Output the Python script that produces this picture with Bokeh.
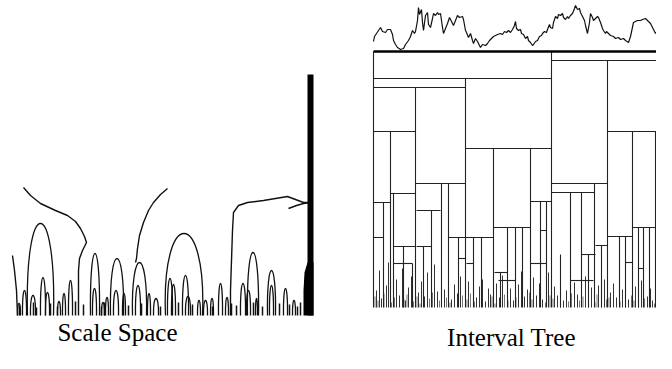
from bokeh.plotting import figure
from bokeh.models import Range1d
from bokeh.core.properties import value
from bokeh.embed import file_html
from bokeh.resources import INLINE

# ---------------- data (image-pixel coordinates) ----------------
captions = ["Scale Space", "Interval Tree"]
caption_x = [117, 511]
caption_y = [332, 337]

# signal on top of the interval tree
signal_x = [373, 374, 376, 378, 380, 382, 385, 387, 390, 392, 393, 395, 397, 400, 403, 405, 408, 410,
            412, 414, 415, 417, 418, 419, 421, 422, 423, 425, 427, 428, 430, 432, 433, 435, 437, 438,
            440, 442, 443, 445, 447, 449, 451, 453, 455, 457, 459, 462, 463, 465, 466, 468, 470, 472,
            473, 475, 477, 480, 482, 485, 487, 489, 491, 493, 495, 497, 500, 502, 504, 506, 508, 510,
            512, 514, 515, 516, 518, 520, 521, 523, 525, 527, 528, 530, 532, 533, 535, 537, 539, 541,
            542, 544, 546, 547, 549, 550, 552, 553, 555, 557, 558, 560, 562, 563, 565, 567, 568, 570,
            572, 574, 575, 577, 579, 580, 582, 584, 585, 587, 589, 590, 592, 593, 595, 597, 598, 600,
            602, 603, 605, 606, 608, 610, 613, 615, 618, 620, 623, 625, 628, 630, 633, 635, 637, 640,
            642, 645, 647, 650, 652, 655, 657, 660, 662, 663, 665, 667, 668, 670, 672]
signal_y = [41, 36, 33, 30, 27, 31, 32, 29, 29, 34, 40, 44, 47, 49, 48, 44, 40, 36,
            30, 33, 31, 20, 7, 14, 9, 22, 30, 15, 12, 24, 27, 18, 13, 15, 12, 14,
            13, 27, 33, 28, 23, 17, 21, 25, 20, 15, 17, 16, 19, 30, 32, 37, 33, 40,
            43, 38, 41, 47, 44, 45, 43, 40, 38, 36, 35, 34, 33, 34, 31, 32, 30, 32,
            29, 25, 21, 28, 30, 29, 33, 34, 38, 36, 40, 42, 45, 44, 41, 40, 36, 35,
            33, 31, 32, 29, 24, 27, 28, 22, 16, 18, 14, 15, 13, 17, 19, 16, 18, 15,
            13, 8, 5, 9, 8, 12, 16, 20, 25, 33, 22, 13, 17, 20, 18, 16, 17, 22,
            28, 30, 33, 31, 33, 35, 36, 38, 37, 39, 38, 40, 42, 36, 22, 21, 20, 20,
            19, 18, 20, 23, 27, 33, 30, 32, 36, 38, 33, 30, 27, 24, 22]

tree_top_y = 51
tree_left = 373
tree_right = 672
tree_bottom = 307

# vertical boundaries of the tree nodes: x and the level where each starts
node_vx = [373, 672, 551, 465, 607, 415, 390, 441, 448, 493, 530, 632, 655, 383, 393, 594, 431,
           473, 507, 515, 546, 581, 570, 619, 643, 665, 403, 423, 412, 458, 481, 500, 522, 540,
           560, 588, 601, 625, 638, 649, 660]
node_vtop = [51, 51, 51, 78, 60, 87, 131, 183, 183, 148, 148, 131, 131, 202, 193, 183, 210,
             237, 227, 227, 201, 192, 192, 236, 227, 192, 246, 246, 263, 237, 237, 272, 227, 201,
             254, 254, 245, 236, 227, 227, 253]

# horizontal tops of the tree nodes
node_hx0 = [373, 551, 373, 373, 607, 465, 415, 551, 551, 390, 655, 373, 530, 416, 493, 632, 373, 448,
            465, 607, 393, 416, 595, 655, 581, 393, 466, 530, 494, 498, 570, 665, 458, 540, 625, 638]
node_hx1 = [551, 672, 465, 415, 672, 551, 465, 607, 594, 415, 672, 390, 551, 440, 530, 655, 383, 465,
            493, 632, 415, 431, 607, 665, 595, 412, 473, 546, 507, 515, 593, 672, 465, 546, 632, 643]
node_hy = [78, 60, 87, 131, 131, 148, 183, 183, 192, 193, 192, 202, 201, 210, 227, 227, 237, 237,
           237, 236, 246, 246, 245, 253, 254, 263, 263, 263, 272, 280, 280, 280, 258, 230, 262, 268]

# leaf intervals at the bottom of the tree
leaf_x = [376, 379, 381, 386, 388, 396, 399, 402, 405, 408, 411, 418, 421, 424, 427, 434, 437, 444,
          451, 454, 457, 460, 468, 476, 479, 482, 485, 488, 490, 496, 499, 502, 510, 513, 518, 521,
          524, 527, 533, 536, 539, 542, 548, 554, 557, 560, 563, 566, 574, 577, 585, 588, 591, 598,
          601, 604, 610, 613, 616, 622, 625, 628, 635, 638, 641, 647, 650, 652, 658, 661, 668]
leaf_top = [290, 270, 298, 285, 262, 279, 295, 268, 300, 287, 276, 292, 281, 296, 272, 264, 291, 289,
            299, 284, 293, 276, 281, 297, 286, 279, 301, 288, 294, 283, 297, 275, 288, 300, 284, 271,
            296, 289, 277, 295, 283, 299, 272, 286, 295, 278, 300, 290, 282, 294, 276, 298, 287, 285,
            300, 279, 292, 283, 297, 289, 275, 299, 286, 293, 280, 296, 288, 300, 281, 294, 287]
fine_x = [374.5, 377.5, 383.5, 391, 394, 403.5, 406.5, 413, 416.5, 419.5, 429, 432, 439, 446,
          449.5, 462, 466.5, 470, 474, 491.5, 494.5, 504, 507.5, 515.5, 529, 531.5, 545, 549.5,
          552.5, 568, 571, 579, 582.5, 594.5, 596.5, 606, 608.5, 619.5, 631, 633.5, 644, 654,
          656.5, 663]
fine_top = [296, 300, 293, 302, 297, 299, 294, 301, 296, 303, 298, 292, 300, 297, 302, 295, 299,
            293, 301, 296, 303, 294, 300, 297, 292, 299, 302, 295, 298, 301, 293, 300, 296, 302,
            294, 299, 297, 301, 295, 300, 298, 303, 293, 299]

# scale space fingerprints: closed arches (left foot, right foot, apex)
arch_left = [27, 90, 110, 132, 165, 247, 267, 22, 40, 62, 68, 92, 122, 147, 153, 167, 171, 182,
             197, 203, 218, 225, 240, 246, 269, 283, 30, 45, 105, 113, 135, 185, 210, 255, 292, 17, 57, 101]
arch_right = [53, 99, 123, 146, 202, 258, 275, 26, 45, 65, 72, 96, 125, 150, 158, 172, 175, 188,
              200, 207, 222, 228, 245, 250, 273, 287, 35, 49, 108, 118, 140, 190, 213, 257, 295, 20, 60, 104]
arch_top = [223, 253, 258, 262, 233, 252, 270, 290, 277, 293, 280, 288, 293, 293, 298, 278, 284, 275,
            300, 300, 283, 297, 283, 290, 285, 288, 295, 292, 297, 290, 285, 296, 298, 298, 300, 303, 301, 302]
scale_bottom = 315

# open fingerprint lines
branch_a_x = [23, 30, 40, 55, 67, 75, 80, 84, 86, 82, 79, 78, 78, 78]
branch_a_y = [187, 195, 203, 210, 215, 221, 228, 236, 242, 250, 258, 270, 290, 315]
branch_b_x = [167, 160, 153, 148, 143, 139, 137, 136, 135]
branch_b_y = [188, 194, 202, 210, 222, 235, 248, 258, 262]
branch_c_x = [230, 230, 231, 232, 233, 238, 247, 263, 275, 287, 295, 303, 310]
branch_c_y = [315, 290, 260, 230, 212, 205, 202, 200, 198, 196, 199, 202, 202]
branch_d_x = [288, 296, 303, 310]
branch_d_y = [208, 205, 203, 202]
branch_e_x = [12, 14, 16, 17]
branch_e_y = [255, 270, 290, 315]

# thick coarse-scale extremum at the right of the scale space
bar_left, bar_right, bar_top = 307, 313, 74
blob_x = [307, 304, 303, 303, 313, 313]
blob_y = [262, 272, 290, 315, 315, 262]

# small fine-scale marks along the bottom
tick_x = [19, 33, 36, 50, 57, 75, 83, 101, 104, 128, 141, 160, 178, 192, 212, 231, 236, 253,
          262, 279, 289, 297, 300]
tick_top = [305, 302, 307, 303, 306, 301, 304, 306, 302, 305, 303, 306, 302, 304, 306, 303, 305,
            302, 306, 303, 304, 306, 302]

# ---------------- figure ----------------
p = figure(width=656, height=353, x_range=Range1d(0, 656), y_range=Range1d(353, 0),
           output_backend="svg", toolbar_location=None, min_border=0,
           x_axis_location=None, y_axis_location=None)
p.grid.visible = False
p.outline_line_color = None
p.background_fill_color = "white"
p.border_fill_color = "white"

ink = "#111111"

# --- scale space ---
p.bezier(x0=arch_left, y0=[scale_bottom] * len(arch_left),
         x1=arch_right, y1=[scale_bottom] * len(arch_left),
         cx0=[l - 0.12 * (r - l) for l, r in zip(arch_left, arch_right)],
         cy0=[scale_bottom + (t - scale_bottom) / 0.75 for t in arch_top],
         cx1=[r + 0.12 * (r - l) for l, r in zip(arch_left, arch_right)],
         cy1=[scale_bottom + (t - scale_bottom) / 0.75 for t in arch_top],
         line_color=ink, line_width=1.3)
p.multi_line(xs=[branch_a_x, branch_b_x, branch_c_x, branch_d_x, branch_e_x],
             ys=[branch_a_y, branch_b_y, branch_c_y, branch_d_y, branch_e_y],
             line_color=ink, line_width=1.4)
p.segment(x0=tick_x, y0=tick_top, x1=tick_x, y1=[scale_bottom] * len(tick_x),
          line_color=ink, line_width=1.5)
p.quad(left=[bar_left], right=[bar_right], top=[bar_top], bottom=[scale_bottom],
       fill_color="black", line_color=None)
p.patch(blob_x, blob_y, fill_color="black", line_color=None)

# --- interval tree ---
p.segment(x0=fine_x, y0=fine_top, x1=fine_x, y1=[tree_bottom] * len(fine_x),
          line_color="#777777", line_width=1)
p.segment(x0=leaf_x, y0=leaf_top, x1=leaf_x, y1=[tree_bottom] * len(leaf_x),
          line_color="#333333", line_width=1)
p.segment(x0=node_vx, y0=node_vtop, x1=node_vx, y1=[tree_bottom] * len(node_vx),
          line_color="#222222", line_width=1.1)
p.segment(x0=node_hx0, y0=node_hy, x1=node_hx1, y1=node_hy,
          line_color="#222222", line_width=1.1)
p.segment(x0=[tree_left], y0=[tree_top_y], x1=[tree_right], y1=[tree_top_y],
          line_color="black", line_width=2.5)
p.line(signal_x, signal_y, line_color=ink, line_width=1.2)

# --- captions ---
p.text(x=caption_x, y=caption_y, text=captions, text_font=value("Liberation Serif"),
       text_font_size=value("25px"), text_align="center", text_baseline="alphabetic",
       text_color="black")

open("out.html", "w").write(file_html(p, INLINE))
